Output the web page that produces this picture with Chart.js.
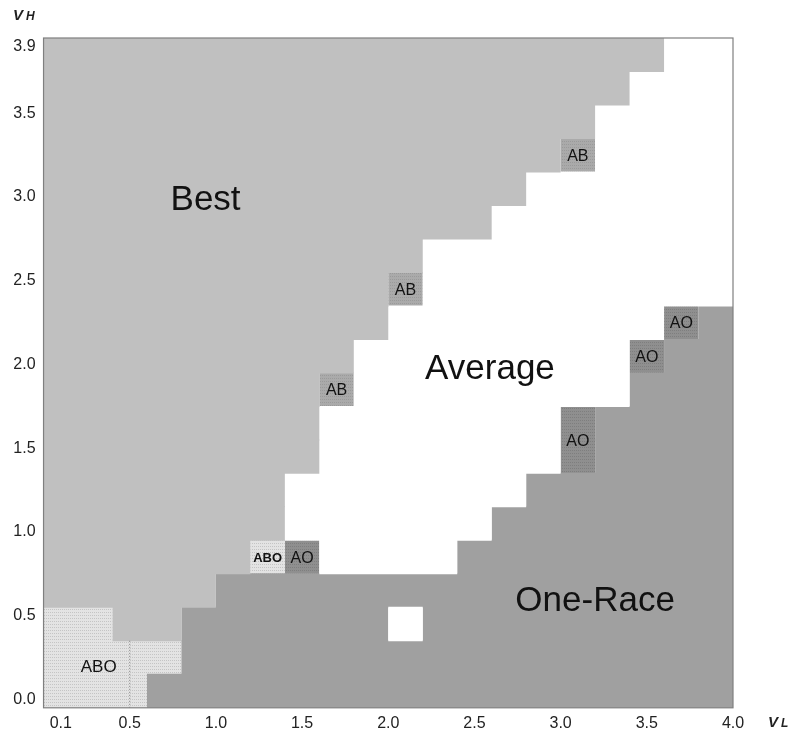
<!DOCTYPE html>
<html><head><meta charset="utf-8">
<script src="https://cdn.jsdelivr.net/npm/chart.js@4.4.1/dist/chart.umd.min.js"></script>
<style>html,body{margin:0;padding:0;background:#fff}#wrap{width:793px;height:733px;position:relative}</style>
</head><body><div id="wrap"><canvas id="c"></canvas></div>
<script>
// column centres (V_L) and row centres (V_H) of the region map
const vL = [0.1,0.3,0.5,0.7,0.9,1.1,1.3,1.5,1.7,1.9,2.1,2.3,2.5,2.7,2.9,3.1,3.3,3.5,3.7,3.9];
const vH = [0.05,0.25,0.45,0.65,0.85,1.05,1.25,1.45,1.65,1.85,2.05,2.25,2.45,2.65,2.85,3.05,3.25,3.45,3.65,3.85];
const xTickValues = [0.1,0.5,1.0,1.5,2.0,2.5,3.0,3.5,4.0];
const yTickValues = [0.0,0.5,1.0,1.5,2.0,2.5,3.0,3.5,3.9];
// region codes: B=Best, W=Average, O=One-Race, X=ABO, b=AB, o=AO
const regionCodes = ['B','W','O','X','b','o'];
const regionNames = ['Best','Average','One-Race','ABO','AB','AO'];
// rows listed from V_H = 0.05 (bottom) to 3.85 (top)
const regionGrid = [
  'XXXOOOOOOOOOOOOOOOOO',
  'XXXXOOOOOOOOOOOOOOOO',
  'XXBBOOOOOOWOOOOOOOOO',
  'BBBBBOOOOOOOOOOOOOOO',
  'BBBBBBXoWWWWOOOOOOOO',
  'BBBBBBBWWWWWWOOOOOOO',
  'BBBBBBBWWWWWWWOOOOOO',
  'BBBBBBBBWWWWWWWoOOOO',
  'BBBBBBBBWWWWWWWoOOOO',
  'BBBBBBBBbWWWWWWWWOOO',
  'BBBBBBBBBWWWWWWWWoOO',
  'BBBBBBBBBBWWWWWWWWoO',
  'BBBBBBBBBBbWWWWWWWWW',
  'BBBBBBBBBBBWWWWWWWWW',
  'BBBBBBBBBBBBBWWWWWWW',
  'BBBBBBBBBBBBBBWWWWWW',
  'BBBBBBBBBBBBBBBbWWWW',
  'BBBBBBBBBBBBBBBBWWWW',
  'BBBBBBBBBBBBBBBBBWWW',
  'BBBBBBBBBBBBBBBBBBWW'
];
// dotted divider inside the ABO block
const dividerL = [0.5, 0.5];
const dividerH = [-0.05, 0.35];
// text labels placed in data coordinates (centre of capitals)
const labelTexts = ['Best','Average','One-Race','ABO','ABO','AO','AO','AO','AO','AB','AB','AB'];
const labelL     = [0.94, 2.59, 3.2, 0.32, 1.3, 1.5, 3.1, 3.5, 3.7, 1.7, 2.1, 3.1];
const labelH     = [3.0, 1.99, 0.6, 0.2, 0.85, 0.85, 1.55, 2.05, 2.25, 1.85, 2.45, 3.25];
const labelKind  = ['big','big','big','mid','bold','small','small','small','small','small','small','small'];

const FONT = '"Liberation Sans", Arial, Helvetica, sans-serif';
const kindSize = { big: 35, mid: 17, bold: 13, small: 16 };

function makePattern(base, dot, w, h) {
  const c = document.createElement('canvas');
  c.width = w; c.height = h;
  const g = c.getContext('2d');
  g.fillStyle = base; g.fillRect(0,0,w,h);
  g.fillStyle = dot; g.fillRect(0,0,1,1);
  return g.createPattern(c, 'repeat');
}
const regionFills = {
  B: '#c0c0c0',
  W: '#ffffff',
  O: '#a0a0a0',
  X: makePattern('#e3e3e3', '#c4c4c4', 2, 3),
  b: makePattern('#aaaaaa', '#9a9a9a', 2, 3),
  o: makePattern('#8f8f8f', '#7e7e7e', 2, 3)
};

const half = (vL[1] - vL[0]) / 2;
function segmentsFor(code) {
  const out = [];
  regionGrid.forEach((row, j) => {
    let i = 0;
    while (i < row.length) {
      if (row[i] === code) {
        let k = i;
        while (k + 1 < row.length && row[k + 1] === code) k++;
        out.push({ y: vH[j], x: [vL[i] - half, vL[k] + half] });
        i = k + 1;
      } else i++;
    }
  });
  return out;
}

const datasets = [{
  type: 'line',
  label: 'divider',
  data: dividerL.map((v, i) => ({ x: v, y: dividerH[i] })),
  borderColor: '#7a7a7a',
  borderWidth: 1,
  borderDash: [1, 2],
  pointRadius: 0,
  order: 0
}];
regionCodes.forEach((code, n) => {
  datasets.push({
    type: 'bar',
    label: regionNames[n],
    data: segmentsFor(code),
    backgroundColor: regionFills[code],
    borderWidth: 0,
    grouped: false,
    barPercentage: 1.03,
    categoryPercentage: 1,
    order: 1
  });
});

const overlay = {
  id: 'overlay',
  afterDatasetsDraw(chart) {
    const { ctx, chartArea: a, scales: { x, y } } = chart;
    ctx.save();
    ctx.strokeStyle = '#7f7f7f';
    ctx.lineWidth = 1.2;
    ctx.strokeRect(a.left, a.top, a.right - a.left, a.bottom - a.top);
    ctx.fillStyle = '#111';
    ctx.textAlign = 'center';
    ctx.textBaseline = 'alphabetic';
    labelTexts.forEach((t, i) => {
      const k = labelKind[i];
      const s = kindSize[k];
      ctx.font = (k === 'bold' ? 'bold ' : '') + s + 'px ' + FONT;
      ctx.fillText(t, x.getPixelForValue(labelL[i]), y.getPixelForValue(labelH[i]) + s * 0.716 / 2);
    });
    // axis names
    ctx.textAlign = 'left';
    ctx.fillStyle = '#222';
    const axisName = (main, sub, px, py) => {
      ctx.font = 'italic bold 15px ' + FONT;
      ctx.fillText(main, px, py);
      const w = ctx.measureText(main).width;
      ctx.font = 'italic bold 12px ' + FONT;
      ctx.fillText(sub, px + w + 3, py);
    };
    axisName('V', 'H', 13, 20);
    axisName('V', 'L', 768, 727);
    ctx.restore();
  }
};

new Chart(document.getElementById('c'), {
  type: 'bar',
  data: { datasets },
  options: {
    indexAxis: 'y',
    responsive: true,
    maintainAspectRatio: false,
    animation: false,
    layout: { padding: { left: 5.3, right: 60, top: 38, bottom: -6 } },
    plugins: { legend: { display: false }, tooltip: { enabled: false } },
    scales: {
      x: {
        type: 'linear', min: 0, max: 4, offset: false,
        afterBuildTicks: s => { s.ticks = xTickValues.map(v => ({ value: v })); },
        ticks: { callback: v => Number(v).toFixed(1), padding: 6, maxRotation: 0, autoSkip: false,
                 color: '#222', font: { family: FONT, size: 16 } },
        grid: { display: false, drawTicks: false },
        border: { display: false }
      },
      y: {
        type: 'linear', min: -0.05, max: 3.95, offset: false,
        afterBuildTicks: s => { s.ticks = yTickValues.map(v => ({ value: v })); },
        ticks: { callback: v => Number(v).toFixed(1), padding: 8, autoSkip: false,
                 color: '#222', font: { family: FONT, size: 16 } },
        grid: { display: false, drawTicks: false, offset: false },
        border: { display: false }
      }
    }
  },
  plugins: [overlay]
});
</script></body></html>
